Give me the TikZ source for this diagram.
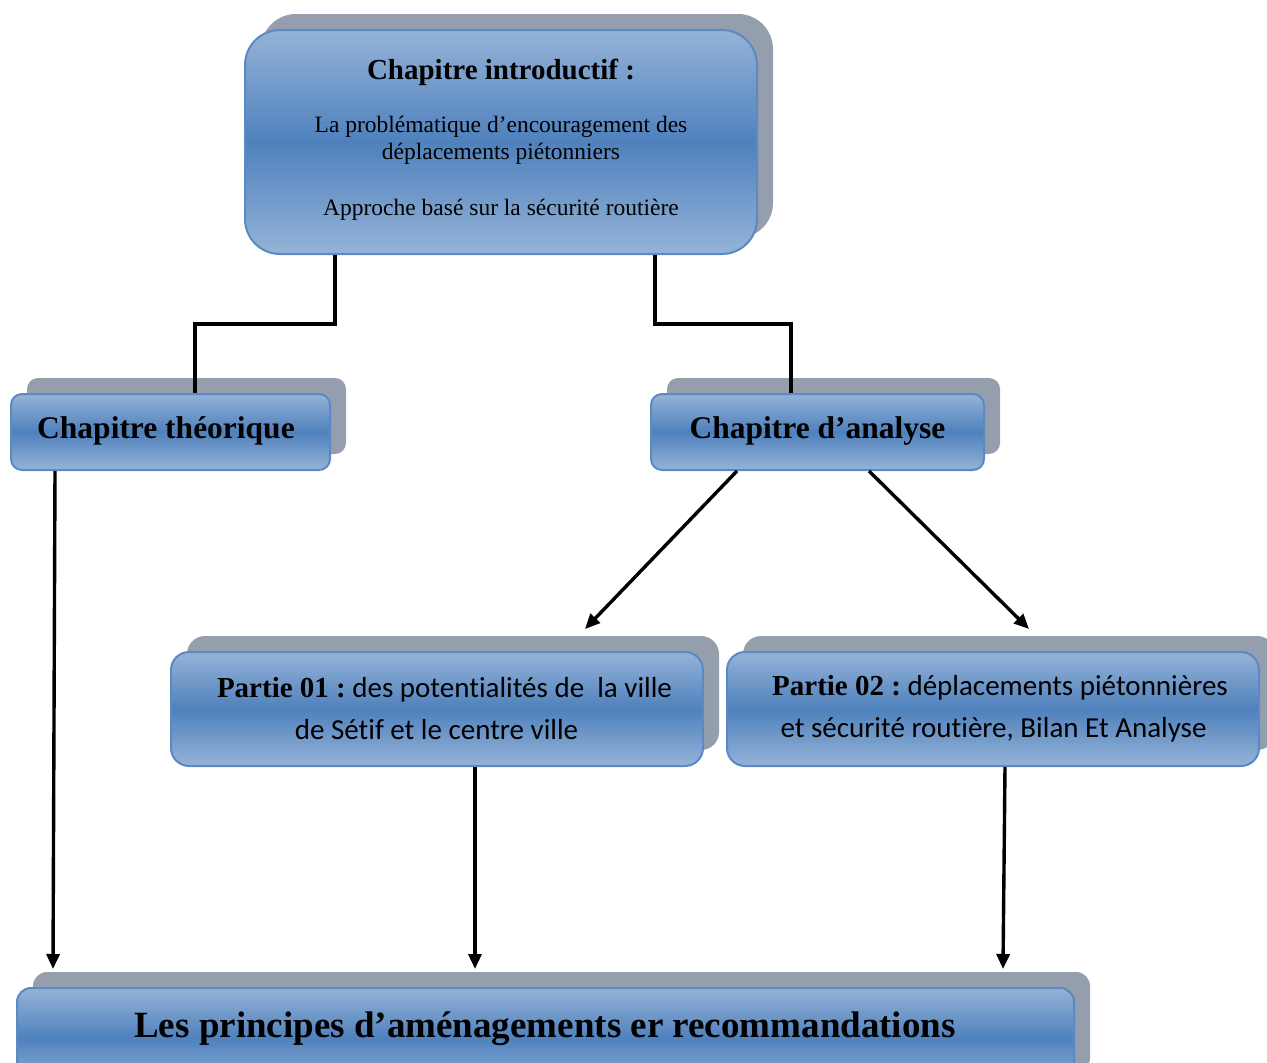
\documentclass[tikz,border=0pt]{standalone}
\usepackage{fontspec}
\usepackage{graphicx}
\setmainfont{Liberation Serif}
\newfontfamily\calib[Ligatures=NoCommon]{Carlito}
\usetikzlibrary{arrows.meta,shadows}
\definecolor{lightb}{HTML}{95B3D7}
\definecolor{midb}{HTML}{4F81BD}
\definecolor{edgeb}{HTML}{5B89C4}
\definecolor{shadowg}{HTML}{949EAC}
\begin{document}
\begin{tikzpicture}[x=1pt,y=-1pt,
  box/.style={rectangle, draw=edgeb, line width=2pt, top color=lightb, bottom color=lightb, middle color=midb, inner sep=0pt,
    general shadow={shadow xshift=16pt, shadow yshift=16pt, fill=shadowg, draw=none}},
  conn/.style={line width=3.4pt, draw=black},
  arr/.style={conn, -{Triangle[length=15pt,width=13pt]}},
  txt/.style={anchor=base, inner sep=0pt, align=center, text=black}]
\useasboundingbox (0,0) rectangle (1267,1063);

% boxes
\node[box, rounded corners=35pt, minimum width=512pt, minimum height=224pt] (intro) at (501,142) {};
\node[box, rounded corners=11pt, minimum width=319pt, minimum height=76pt] (theo) at (170.5,432) {};
\node[box, rounded corners=11pt, minimum width=333pt, minimum height=76pt] (ana) at (817.5,432) {};
\node[box, rounded corners=18pt, minimum width=532pt, minimum height=114pt] (p1) at (437,709) {};
\node[box, rounded corners=18pt, minimum width=532pt, minimum height=114pt] (p2) at (993,709) {};
\node[box, rounded corners=14pt, minimum width=1057pt, minimum height=100pt] (fin) at (545.5,1038) {};

% texts
\node[txt] (t1) at (501,79) {\fontsize{29}{32}\selectfont\bfseries Chapitre introductif :};
\node[txt] (t2) at (501,132) {\fontsize{23.5}{27}\selectfont La problématique d’encouragement des};
\node[txt] (t3) at (501,159) {\fontsize{23.5}{27}\selectfont déplacements piétonniers};
\node[txt] (t4) at (501,215) {\fontsize{23.5}{27}\selectfont Approche basé sur la sécurité routière};
\node[txt] (t5) at (166,438) {\fontsize{31.5}{34}\selectfont\bfseries Chapitre théorique};
\node[txt] (t6) at (817.5,438) {\fontsize{31.5}{34}\selectfont\bfseries Chapitre d’analyse};
\node[txt] (t7) at (444.5,697) {\fontsize{29}{32}\selectfont\textbf{Partie 01 :}{\calib\ des potentialités de\ \ la ville}};
\node[txt] (t8) at (436.5,739) {\fontsize{29}{32}\selectfont\calib de Sétif et le centre ville};
\node[txt] (t9) at (1000,695) {\fontsize{29}{32}\selectfont\textbf{Partie 02 :}{\calib\ déplacements piétonnières}};
\node[txt] (t10) at (993.5,737) {\fontsize{29}{32}\selectfont\calib et sécurité routière, Bilan Et Analyse};
\node[txt] (t11) at (545,1037) {\fontsize{37}{40}\selectfont\bfseries Les principes d’aménagements er recommandations};

% connectors
\draw[conn] ([xshift=-166pt]intro.south) -- ++(0,69) -| ([xshift=24.5pt]theo.north);
\draw[conn] ([xshift=154pt]intro.south) -- ++(0,69) -| ([xshift=-26.5pt]ana.north);
\draw[arr] ([xshift=-80.5pt]ana.south) -- ([xshift=148pt,yshift=22pt]p1.north);
\draw[arr] ([xshift=51.5pt]ana.south) -- ([xshift=36pt,yshift=22pt]p2.north);
\draw[arr] ([xshift=-115.5pt]theo.south) -- ([xshift=-492.5pt,yshift=18pt]fin.north);
\draw[arr] ([xshift=38pt]p1.south) -- ([xshift=-70.5pt,yshift=18pt]fin.north);
\draw[arr] ([xshift=12pt]p2.south) -- ([xshift=457.5pt,yshift=18pt]fin.north);
\end{tikzpicture}
\end{document}
